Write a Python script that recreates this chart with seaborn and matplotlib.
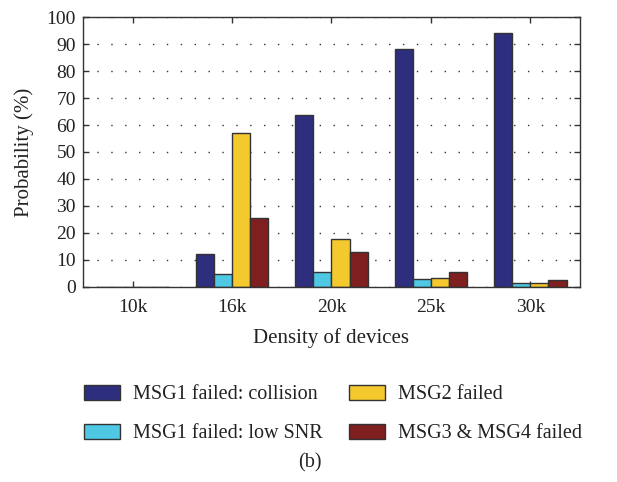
import matplotlib
matplotlib.use("Agg")
import matplotlib.pyplot as plt
import seaborn as sns
import pandas as pd
from matplotlib.patches import Patch

# Failure probabilities (%) by device density
densities = ["10k", "16k", "20k", "25k", "30k"]
msg1_collision = [0.0, 12.3, 63.6, 88.1, 94.0]
msg1_low_snr = [0.0, 4.8, 5.4, 2.8, 1.5]
msg2_failed = [0.0, 57.0, 17.8, 3.5, 1.5]
msg34_failed = [0.0, 25.4, 12.8, 5.4, 2.7]

series_names = [
    "MSG1 failed: collision",
    "MSG1 failed: low SNR",
    "MSG2 failed",
    "MSG3 & MSG4 failed",
]
series_colors = ["#2E2E7E", "#4FC8E4", "#F4C92E", "#7F1F1F"]
y_ticks = list(range(0, 101, 10))

rows = []
for name, vals in zip(series_names, [msg1_collision, msg1_low_snr, msg2_failed, msg34_failed]):
    for d, v in zip(densities, vals):
        rows.append({"Density": d, "Series": name, "Probability": v})
df = pd.DataFrame(rows)

sns.set_theme(style="white")
plt.rcParams["font.family"] = ["Liberation Serif", "DejaVu Serif"]

fig = plt.figure(figsize=(6.17, 4.82), dpi=100)
ax = fig.add_axes([0.1345, 0.4046, 0.8055, 0.5601])

sns.barplot(
    data=df, x="Density", y="Probability", hue="Series",
    order=densities, hue_order=series_names, palette=series_colors,
    width=0.73, gap=0, edgecolor="#333333", linewidth=1.0,
    saturation=1, errorbar=None, legend=False, ax=ax,
)

ax.set_xlim(-0.5, len(densities) - 0.5)
ax.set_ylim(0, 100)
ax.set_yticks(y_ticks)
ax.set_yticklabels([str(t) for t in y_ticks])
ax.yaxis.grid(True, linestyle=(0, (1, 9)), color="#333333", linewidth=1.0)
ax.xaxis.grid(False)
ax.set_axisbelow(True)

for s in ax.spines.values():
    s.set_visible(True)
    s.set_color("#333333")
    s.set_linewidth(1.0)

ax.tick_params(axis="both", direction="in", length=4, width=1, color="#333333",
               top=True, right=True, bottom=True, left=True,
               labelsize=14, labelcolor="#222222")
ax.tick_params(axis="x", pad=9)
ax.tick_params(axis="y", pad=5)

ax.set_xlabel("Density of devices", fontsize=15, color="#222222", labelpad=8)
ax.set_ylabel("Probability (%)", fontsize=15, color="#222222", labelpad=9)

handles = [Patch(facecolor=c, edgecolor="#333333", linewidth=1.0) for c in series_colors]
fig.legend(
    handles, series_names, ncol=2, loc="center", bbox_to_anchor=(0.54, 0.141),
    frameon=False, fontsize=14.5, handlelength=1.8, handleheight=0.8,
    handletextpad=0.65, columnspacing=1.3, labelspacing=0.95,
    labelcolor="#222222",
)

fig.text(0.503, 0.04, "(b)", ha="center", va="center", fontsize=14.5, color="#222222")

fig.savefig("out.png", dpi=100)
